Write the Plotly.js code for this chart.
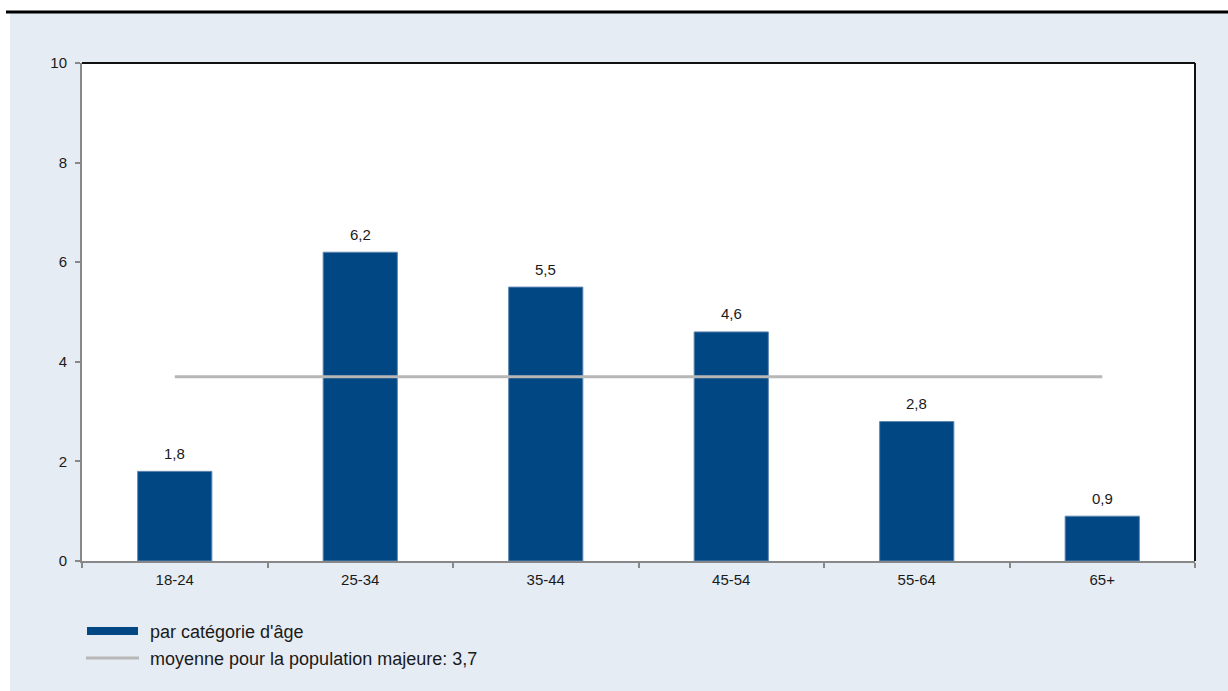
<!DOCTYPE html>
<html>
<head>
<meta charset="utf-8">
<script src="https://cdn.plot.ly/plotly-3.0.1.min.js"></script>
<style>html,body{margin:0;padding:0;background:#fff;}#chart{width:1228px;height:691px;}</style>
</head>
<body>
<div id="chart"></div>
<script>
const categories = ["18-24", "25-34", "35-44", "45-54", "55-64", "65+"];
const values = [1.8, 6.2, 5.5, 4.6, 2.8, 0.9];
const averageValue = 3.7;
const seriesNames = ["par catégorie d'âge", "moyenne pour la population majeure: 3,7"];
const yTicks = [0, 2, 4, 6, 8, 10];

const barColor = '#004784';
const lineColor = '#b7b7b7';
const bgColor = '#e6ecf3';
const fontFamily = 'Liberation Sans, Arial, sans-serif';

const fmt = v => v.toFixed(1).replace('.', ',');

const bars = {
  type: 'bar', x: categories, y: values, width: 0.4,
  marker: {color: barColor, line: {color: '#5f86b0', width: 1}},
  showlegend: false, hoverinfo: 'skip'
};
const avgLine = {
  type: 'scatter', mode: 'lines', x: categories, y: categories.map(() => averageValue),
  line: {color: lineColor, width: 3}, showlegend: false, hoverinfo: 'skip'
};

const labelAnn = categories.map((c, i) => ({
  x: c, y: values[i], xref: 'x', yref: 'y', text: fmt(values[i]),
  showarrow: false, yanchor: 'middle', yshift: 18,
  font: {family: fontFamily, size: 15, color: '#1a1a1a'}
}));

const legendAnn = [
  {x: 0.0593, y: -0.1426, text: seriesNames[0]},
  {x: 0.0593, y: -0.1968, text: seriesNames[1]}
].map(a => Object.assign(a, {xref: 'paper', yref: 'paper', xanchor: 'left', yanchor: 'middle',
  showarrow: false, font: {family: fontFamily, size: 18, color: '#1a1a1a'}}));

const shapes = [
  {type: 'rect', xref: 'paper', yref: 'paper', x0: -0.2, x1: 1.2, y0: 1.1014, y1: 1.3, fillcolor: '#ffffff', line: {width: 0}, layer: 'below'},
  {type: 'rect', xref: 'paper', yref: 'paper', x0: -0.2, x1: -0.0647, y0: -0.4, y1: 1.3, fillcolor: '#ffffff', line: {width: 0}, layer: 'below'},
  {type: 'line', xref: 'paper', yref: 'paper', x0: -0.0683, x1: 1.05, y0: 1.1024, y1: 1.1024, line: {color: '#000', width: 3}},
  {type: 'line', xref: 'paper', yref: 'paper', x0: 0, x1: 1, y0: 1, y1: 1, line: {color: '#111', width: 2}},
  {type: 'line', xref: 'paper', yref: 'paper', x0: 1, x1: 1, y0: 0, y1: 1, line: {color: '#111', width: 2}},
  {type: 'rect', xref: 'paper', yref: 'paper', x0: 0.0045, x1: 0.0503, y0: -0.1486, y1: -0.1325, fillcolor: barColor, line: {width: 0}},
  {type: 'line', xref: 'paper', yref: 'paper', x0: 0.0036, x1: 0.0512, y0: -0.1948, y1: -0.1948, line: {color: lineColor, width: 3}}
];

const layout = {
  width: 1228, height: 691,
  margin: {l: 82, r: 33, t: 63, b: 130},
  paper_bgcolor: bgColor, plot_bgcolor: '#ffffff',
  separators: ',.',
  font: {family: fontFamily, size: 15, color: '#1a1a1a'},
  xaxis: {
    type: 'category', showline: true, linecolor: '#888888', linewidth: 2,
    ticks: 'outside', tickson: 'boundaries', ticklen: 5, tickwidth: 2, tickcolor: '#888888',
    ticklabelstandoff: 4,
    showgrid: false, zeroline: false, fixedrange: true,
    tickfont: {family: fontFamily, size: 15, color: '#1a1a1a'}
  },
  yaxis: {
    range: [0, 10], tickvals: yTicks, ticktext: yTicks.map(String),
    showline: true, linecolor: '#888888', linewidth: 2,
    ticks: 'outside', ticklen: 5, tickwidth: 2, tickcolor: '#888888',
    ticklabelstandoff: 5,
    showgrid: false, zeroline: false, fixedrange: true,
    tickfont: {family: fontFamily, size: 15, color: '#1a1a1a'}
  },
  showlegend: false,
  bargap: 0.6,
  annotations: labelAnn.concat(legendAnn),
  shapes: shapes
};

Plotly.newPlot('chart', [bars, avgLine], layout, {displayModeBar: false, staticPlot: true});
</script>
</body>
</html>
